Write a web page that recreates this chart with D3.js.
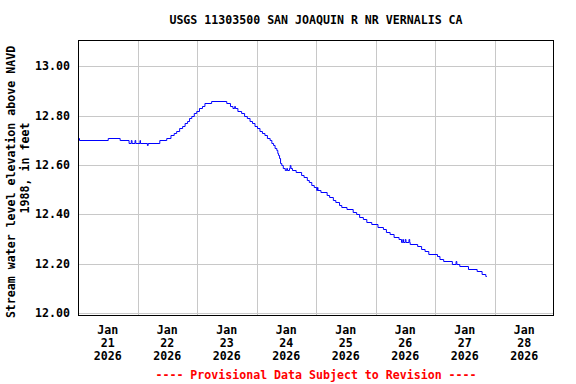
<!DOCTYPE html>
<html>
<head>
<meta charset="utf-8">
<script src="https://cdn.jsdelivr.net/npm/d3@7"></script>
<style>
  html, body { margin: 0; padding: 0; background: #fff; }
  svg text { font-family: "DejaVu Sans Mono", monospace; font-weight: bold; font-size: 11.6px; }
</style>
</head>
<body>
<svg id="chart" width="576" height="384"></svg>
<script>
// ── Data: hours since Jan 21 2026 00:00, stage in feet (step series) ───────
const hours = [
  0, 0.2, 0.6, 12.2, 17, 20.6, 21.5, 21.8, 23, 23.3, 25, 25.2, 28, 28.3, 33,
  35.8, 37.5, 38.8, 39.8, 41, 42.2, 43.2, 44.2, 45, 45.9, 46.9, 47.9, 49, 50.2,
  51.2, 53.9, 60, 61.5, 62.5, 63.2, 63.5, 64.5, 66, 67.2, 68.3, 69.4, 70.4,
  71.4, 72.4, 73.4, 74.4, 75.4, 76.4, 77.5, 78.2, 78.9, 79.5, 80.2, 80.6, 80.9,
  81.3, 81.7, 82.2, 82.8, 83.6, 84.2, 84.5, 85.3, 85.6, 85.9, 86.5, 88, 90.2,
  91.2, 92.5, 93.3, 94.3, 95.3, 96.3, 96.6, 96.8, 98, 100.5, 101.5, 103, 104,
  105.5, 106.4, 108.5, 111, 112.4, 113.6, 115.1, 116.5, 118.5, 121, 123.2,
  124.4, 125.9, 127.5, 129.5, 130.5, 131, 131.3, 132, 132.3, 133.5, 133.8, 134,
  137, 138.6, 140, 141.5, 145, 146, 147.5, 151, 152.5, 152.8, 154, 157.5, 161,
  163, 164.5, 164.9
];
const stage = [
  12.70, 12.71, 12.70, 12.71, 12.70, 12.69, 12.70, 12.69, 12.70, 12.69, 12.70, 12.69, 12.68, 12.69, 12.70,
  12.71, 12.72, 12.73, 12.74, 12.75, 12.76, 12.77, 12.78, 12.79, 12.80, 12.81, 12.82, 12.83, 12.84,
  12.85, 12.86, 12.85, 12.84, 12.83, 12.84, 12.83, 12.82, 12.81, 12.80, 12.79, 12.78, 12.77,
  12.76, 12.75, 12.74, 12.73, 12.72, 12.71, 12.70, 12.69, 12.68, 12.67, 12.66, 12.65, 12.64,
  12.63, 12.61, 12.60, 12.59, 12.58, 12.59, 12.58, 12.59, 12.60, 12.59, 12.58, 12.57, 12.56,
  12.55, 12.54, 12.53, 12.52, 12.51, 12.50, 12.51, 12.50, 12.49, 12.48, 12.47, 12.46, 12.45,
  12.44, 12.43, 12.42, 12.41, 12.40, 12.39, 12.38, 12.37, 12.36, 12.35, 12.34,
  12.33, 12.32, 12.31, 12.30, 12.29, 12.30, 12.29, 12.30, 12.29, 12.30, 12.29, 12.28,
  12.27, 12.26, 12.25, 12.24, 12.23, 12.22, 12.21, 12.20, 12.21, 12.20, 12.19, 12.18, 12.17,
  12.16, 12.15, 12.15
];

const yTicks = [12.0, 12.2, 12.4, 12.6, 12.8, 13.0];
const dayLabels = ['21', '22', '23', '24', '25', '26', '27', '28'];
const monthLabel = 'Jan';
const yearLabel = '2026';
const title = 'USGS 11303500 SAN JOAQUIN R NR VERNALIS CA';
const yLabel1 = 'Stream water level elevation above NAVD';
const yLabel2 = '1988, in feet';
const footer = '---- Provisional Data Subject to Revision ----';

// ── Layout ────────────────────────────────────────────────────────────────
const L = 78, R = 554, T = 40, B = 316;
const t0 = Date.UTC(2026, 0, 21);
const HR = 3600 * 1000;

const x = d3.scaleUtc()
  .domain([new Date(t0), new Date(t0 + 8 * 24 * HR)])
  .range([L, R]);
const y = d3.scaleLinear().domain([11.99, 13.105]).range([B - 0.5, T + 0.5]);

const svg = d3.select('#chart');

// gridlines
const gridDays = d3.range(1, 8).map(d => new Date(t0 + d * 24 * HR));
svg.append('g').selectAll('line').data(gridDays).join('line')
  .attr('x1', d => Math.round(x(d)) + 0.5).attr('x2', d => Math.round(x(d)) + 0.5)
  .attr('y1', T).attr('y2', B)
  .attr('stroke', '#c8c8c8').attr('stroke-width', 1);
svg.append('g').selectAll('line').data(yTicks).join('line')
  .attr('x1', L).attr('x2', R)
  .attr('y1', d => Math.round(y(d)) + 0.5).attr('y2', d => Math.round(y(d)) + 0.5)
  .attr('stroke', '#c8c8c8').attr('stroke-width', 1);

// data line
const pts = hours.map((h, i) => ({ t: new Date(t0 + h * HR), v: stage[i] }));
const line = d3.line().x(d => x(d.t)).y(d => Math.round(y(d.v)) + 0.5).curve(d3.curveStepAfter);
svg.append('path').datum(pts)
  .attr('fill', 'none').attr('stroke', '#0000ff').attr('stroke-width', 1)
  .attr('d', line);

// frame
svg.append('rect').attr('x', L + 0.5).attr('y', T + 0.5)
  .attr('width', R - L - 1).attr('height', B - T - 1)
  .attr('fill', 'none').attr('stroke', '#000').attr('stroke-width', 1);

// y tick labels
svg.append('g').selectAll('text').data(yTicks).join('text')
  .attr('x', L - 8).attr('y', d => y(d) + 4)
  .attr('text-anchor', 'end').attr('fill', '#000')
  .text(d => d.toFixed(2));

// x tick labels (at noon of each day)
const labelDays = dayLabels.map((s, i) => ({ s, t: new Date(t0 + (i * 24 + 12) * HR) }));
const xl = svg.append('g').selectAll('g').data(labelDays).join('g')
  .attr('transform', d => `translate(${x(d.t)},0)`);
xl.append('text').attr('y', 334).attr('text-anchor', 'middle').text(monthLabel);
xl.append('text').attr('y', 347).attr('text-anchor', 'middle').text(d => d.s);
xl.append('text').attr('y', 360).attr('text-anchor', 'middle').text(yearLabel);

// title
svg.append('text').attr('x', (L + R) / 2).attr('y', 24)
  .attr('text-anchor', 'middle').text(title);

// y axis label
svg.append('text').attr('transform', 'translate(15,182) rotate(-90)')
  .attr('text-anchor', 'middle').text(yLabel1);
svg.append('text').attr('transform', 'translate(29,168) rotate(-90)')
  .attr('text-anchor', 'middle').text(yLabel2);

// footer
svg.append('text').attr('x', (L + R) / 2).attr('y', 379)
  .attr('text-anchor', 'middle').attr('fill', '#ff0000').text(footer);
</script>
</body>
</html>
